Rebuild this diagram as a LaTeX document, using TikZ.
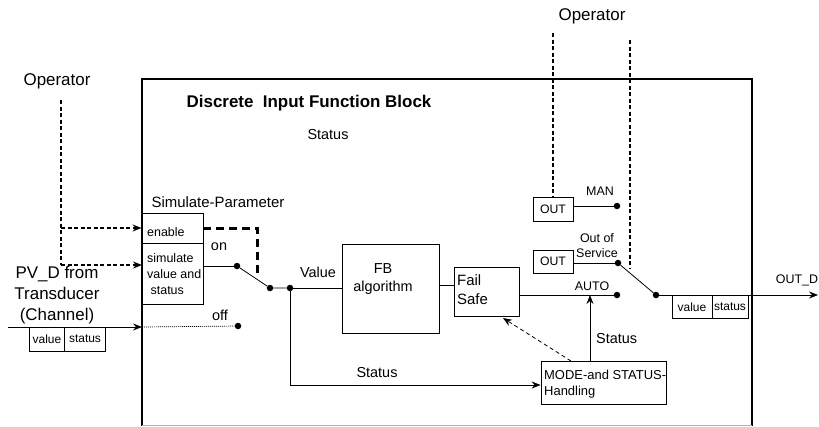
\documentclass[tikz,border=0pt]{standalone}
\usepackage{fontspec}
\setmainfont{Liberation Sans}
\usetikzlibrary{arrows.meta}
\begin{document}
\begin{tikzpicture}[x=1bp,y=-1bp,
  fs/.style={font=\fontsize{#1}{\dimexpr #1pt*5/4\relax}\selectfont},
  lab/.style={inner sep=0pt, align=center},
  box/.style={draw, line width=0.8bp, inner sep=0pt},
  dot/.style={circle, fill, inner sep=0pt, minimum size=6.5bp},
  conn/.style={line width=0.8bp},
  opdash/.style={line width=1.7bp, dash pattern=on 4bp off 2.5bp},
  thickdash/.style={line width=3bp, dash pattern=on 8bp off 5bp},
  thindash/.style={line width=0.8bp, dash pattern=on 4bp off 3bp},
  dotline/.style={line width=0.7bp, dash pattern=on 1bp off 1bp},
  arr/.style={-{Stealth[length=9bp,width=7bp,inset=3bp]}},
  blk/.style={line width=2.5bp}
]
\useasboundingbox (0,0) rectangle (819,426);

% main block
\coordinate (bl) at (142,426);
\coordinate (tl) at (142,79);
\coordinate (tr) at (752,79);
\coordinate (br) at (752,426);
\draw[blk] (bl) -- (tl) -- (tr) -- (br);
\draw[line width=1bp, black!30] (142,425) -- (752,425);

% titles and texts
\node[lab, fs=17] (op1) at (57,81) {Operator};
\node[lab, fs=17] (op2) at (592,16) {Operator};
\node[lab, font=\bfseries\fontsize{17}{20}\selectfont] (title) at (309,103) {Discrete\ \ Input Function Block};
\node[lab, fs=14.5] (stat0) at (328,135) {Status};
\node[lab, fs=15] (simpar) at (218,202) {Simulate-Parameter};
\node[lab, fs=17] (pvd) at (57,295) {PV\_D from\\Transducer\\(Channel)};

% simulate parameter boxes
\node[box, minimum width=61bp, minimum height=30bp] (enable) at (172.5,228) {};
\node[box, minimum width=61bp, minimum height=61bp] (simbox) at (172.5,273.5) {};
\node[lab, fs=12.5, anchor=west] (entxt) at (147,232) {enable};
\node[lab, fs=12.5, anchor=west, align=left] (simtxt) at (147,274) {simulate\\value and\\\ status};
\node[lab, fs=14.5] (ontxt) at (219,247) {on};
\node[lab, fs=14.5] (offtxt) at (220,315) {off};

% input value/status
\node[box, minimum width=35bp, minimum height=24bp] (valL) at (46.5,339) {};
\node[box, minimum width=41bp, minimum height=24bp] (statL) at (84.5,339) {};
\node[lab, fs=12] (valLt) at (47,339) {value};
\node[lab, fs=12] (statLt) at (85,339) {status};

% operator dashed (left)
\coordinate (opL1) at (61,100);
\coordinate (opL2) at (61,228);
\coordinate (opL3) at (61,265);
\coordinate (simin) at (142,265);
\draw[opdash] (opL1) -- (opL3);
\draw[opdash,arr] (opL2) -- (enable.west);
\draw[opdash,arr] (opL3) -- (simin);

% input arrow and off path
\coordinate (inS) at (8,327);
\coordinate (inE) at (142,327);
\draw[conn,arr] (inS) -- (inE);
\node[dot] (off) at (238,326) {};
\draw[dotline] (inE) -- (off);

% switch 1
\node[dot] (on1) at (237,266) {};
\node[dot] (sw1) at (270,288) {};
\node[dot] (j1) at (290,288) {};
\draw[conn] (simbox.east |- on1) -- (on1);
\draw[conn] (on1) -- (sw1) -- (j1);
\coordinate (en1) at (257,228);
\coordinate (en2) at (257,273);
\draw[thickdash] (enable.east) -- (en1) -- (en2);

% FB algorithm
\node[box, minimum width=97bp, minimum height=89bp] (fb) at (390.5,288.5) {};
\node[lab, fs=14.5] (fbt) at (383,279) {FB\\algorithm};
\node[lab, fs=14.5] (valtxt) at (318,272) {Value};
\draw[conn] (j1) -- (j1 -| fb.west);

% Fail safe
\node[box, minimum width=65bp, minimum height=49bp] (fsafe) at (486.5,291.5) {};
\node[lab, fs=15, anchor=west, align=left] (fst) at (457,289.5) {Fail\\Safe};
\coordinate (fbo) at (439,285);
\draw[conn] (fbo) -- (fbo -| fsafe.west);

% MODE box
\node[box, minimum width=125bp, minimum height=43bp] (mode) at (603.5,382.5) {};
\node[lab, fs=13, anchor=west, align=left] (modet) at (544,384) {MODE-and STATUS-\\Handling};
\coordinate (jb) at (290,385);
\draw[conn,arr] (j1) -- (jb) -- (jb -| mode.west);
\node[lab, fs=14.5] (stat1) at (377,373) {Status};

% AUTO, MAN, OOS
\node[dot] (auto) at (617,295) {};
\draw[conn] (fsafe.east |- auto) -- (auto);
\node[lab, fs=12.5] (autot) at (592,286) {AUTO};
\coordinate (mst) at (590,361);
\coordinate (mtop) at (590,295);
\draw[conn,arr] (mst) -- (mtop);
\node[lab, fs=14.5, anchor=west] (stat2) at (596,339) {Status};
\coordinate (mds) at (571,361);
\coordinate (fsin) at (503,318);
\draw[thindash,arr] (mds) -- (fsin);

\node[box, fs=12.3, minimum width=40bp, minimum height=24bp] (out1) at (553,209) {OUT};
\node[box, fs=12.3, minimum width=40bp, minimum height=23bp] (out2) at (553,261.5) {OUT};
\node[dot] (man) at (617,206) {};
\node[dot] (oos) at (618,263) {};
\draw[conn] (out1.east |- man) -- (man);
\draw[conn] (out2.east |- oos) -- (oos);
\node[lab, fs=12.5] (mant) at (600,191) {MAN};
\node[lab, fs=12.5] (oost) at (597,245.5) {Out of\\Service};

% operator dashed (right)
\coordinate (opR1) at (553,33);
\coordinate (opR2) at (630,40);
\coordinate (opR3) at (630,269);
\draw[opdash] (opR1) -- (out1.north);
\draw[opdash] (opR2) -- (opR3);

% switch 2 and output
\node[dot] (sw2) at (656,295) {};
\draw[conn] (oos) -- (sw2);
\coordinate (outE) at (818,295);
\draw[conn,arr] (sw2) -- (outE);
\node[box, minimum width=40bp, minimum height=23bp] (valR) at (692,306.5) {};
\node[box, minimum width=36bp, minimum height=23bp] (statR) at (730,306.5) {};
\node[lab, fs=12] (valRt) at (692,307) {value};
\node[lab, fs=12] (statRt) at (730,307) {status};
\node[lab, fs=12.5] (outd) at (797,280) {OUT\_D};
\end{tikzpicture}
\end{document}
